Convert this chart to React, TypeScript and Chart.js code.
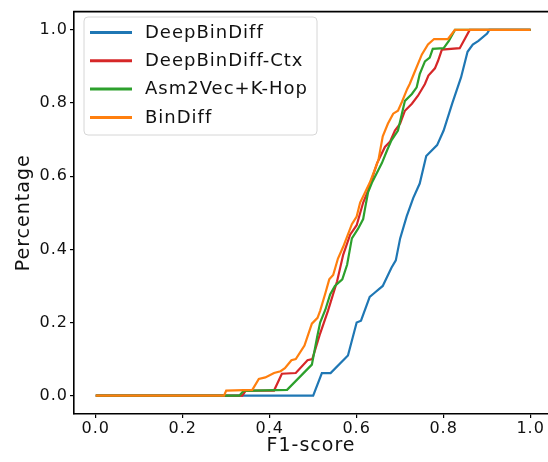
import React, { useEffect, useRef } from "react";
import { Chart, registerables } from "chart.js";
Chart.register(...registerables);

const seriesNames = ["DeepBinDiff", "DeepBinDiff-Ctx", "Asm2Vec+K-Hop", "BinDiff"];
const seriesColors = ["#1f77b4", "#d62728", "#2ca02c", "#ff7f0e"];

const deepBinDiffX = [0, 0.50, 0.52, 0.54, 0.58, 0.60, 0.61, 0.63, 0.64, 0.66, 0.68, 0.69, 0.70, 0.715, 0.73, 0.745, 0.76, 0.785, 0.80, 0.82, 0.84, 0.855, 0.867, 0.88, 0.90, 0.905, 1.0];
const deepBinDiffY = [0, 0, 0.062, 0.062, 0.11, 0.2, 0.205, 0.27, 0.28, 0.30, 0.35, 0.37, 0.43, 0.49, 0.54, 0.58, 0.655, 0.685, 0.725, 0.80, 0.87, 0.94, 0.96, 0.97, 0.99, 1.0, 1.0];

const ctxX = [0, 0.337, 0.345, 0.41, 0.428, 0.46, 0.487, 0.498, 0.516, 0.534, 0.555, 0.569, 0.585, 0.60, 0.615, 0.626, 0.647, 0.665, 0.677, 0.688, 0.70, 0.711, 0.727, 0.741, 0.757, 0.765, 0.78, 0.787, 0.796, 0.837, 0.86, 1.0];
const ctxY = [0, 0, 0.014, 0.014, 0.06, 0.062, 0.097, 0.1, 0.17, 0.232, 0.313, 0.385, 0.44, 0.466, 0.528, 0.56, 0.636, 0.68, 0.695, 0.725, 0.744, 0.779, 0.798, 0.82, 0.852, 0.875, 0.895, 0.915, 0.946, 0.95, 1.0, 1.0];

const asmX = [0, 0.33, 0.34, 0.44, 0.497, 0.509, 0.516, 0.528, 0.539, 0.55, 0.567, 0.578, 0.589, 0.603, 0.615, 0.619, 0.626, 0.635, 0.658, 0.67, 0.68, 0.695, 0.704, 0.711, 0.727, 0.738, 0.745, 0.757, 0.768, 0.775, 0.80, 0.812, 0.826, 1.0];
const asmY = [0, 0, 0.013, 0.016, 0.085, 0.16, 0.2, 0.235, 0.277, 0.3, 0.318, 0.358, 0.43, 0.456, 0.483, 0.51, 0.555, 0.582, 0.636, 0.671, 0.698, 0.725, 0.771, 0.806, 0.825, 0.843, 0.879, 0.914, 0.924, 0.948, 0.95, 0.97, 1.0, 1.0];

const binDiffX = [0, 0.295, 0.30, 0.36, 0.375, 0.39, 0.41, 0.425, 0.435, 0.45, 0.46, 0.48, 0.497, 0.51, 0.516, 0.528, 0.537, 0.546, 0.557, 0.569, 0.589, 0.60, 0.608, 0.619, 0.63, 0.65, 0.66, 0.672, 0.684, 0.695, 0.704, 0.716, 0.722, 0.734, 0.75, 0.764, 0.778, 0.81, 0.826, 1.0];
const binDiffY = [0, 0, 0.014, 0.016, 0.046, 0.05, 0.062, 0.067, 0.075, 0.097, 0.1, 0.137, 0.197, 0.213, 0.232, 0.28, 0.318, 0.33, 0.375, 0.407, 0.469, 0.49, 0.528, 0.555, 0.582, 0.644, 0.709, 0.744, 0.771, 0.779, 0.803, 0.838, 0.852, 0.887, 0.933, 0.96, 0.975, 0.975, 1.0, 1.0];

const seriesX = [deepBinDiffX, ctxX, asmX, binDiffX];
const seriesY = [deepBinDiffY, ctxY, asmY, binDiffY];

const xTicks = [0, 0.2, 0.4, 0.6, 0.8, 1.0];
const yTicks = [0, 0.2, 0.4, 0.6, 0.8, 1.0];
const xTitle = "F1-score";
const yTitle = "Percentage";

const FONT = "'DejaVu Sans', sans-serif";

const spacingPlugin = {
  id: "letterSpacing",
  beforeUpdate(chart: any) {
    chart.ctx.letterSpacing = "1px";
  },
  beforeDraw(chart: any) {
    chart.ctx.letterSpacing = "1px";
  },
};

const topSpinePlugin = {
  id: "topSpine",
  afterDraw(chart: any) {
    const { ctx, chartArea } = chart;
    ctx.save();
    ctx.strokeStyle = "#000";
    ctx.lineWidth = 1.6;
    ctx.beginPath();
    ctx.moveTo(chartArea.left - 0.8, chartArea.top);
    ctx.lineTo(chartArea.right, chartArea.top);
    ctx.stroke();
    ctx.restore();
  },
};

const legendPlugin = {
  id: "boxLegend",
  afterDatasetsDraw(chart: any) {
    const { ctx } = chart;
    const x0 = 84, y0 = 17, w = 233, h = 118, r = 4;
    ctx.save();
    ctx.beginPath();
    ctx.moveTo(x0 + r, y0);
    ctx.lineTo(x0 + w - r, y0);
    ctx.quadraticCurveTo(x0 + w, y0, x0 + w, y0 + r);
    ctx.lineTo(x0 + w, y0 + h - r);
    ctx.quadraticCurveTo(x0 + w, y0 + h, x0 + w - r, y0 + h);
    ctx.lineTo(x0 + r, y0 + h);
    ctx.quadraticCurveTo(x0, y0 + h, x0, y0 + h - r);
    ctx.lineTo(x0, y0 + r);
    ctx.quadraticCurveTo(x0, y0, x0 + r, y0);
    ctx.closePath();
    ctx.fillStyle = "rgba(255,255,255,0.85)";
    ctx.fill();
    ctx.strokeStyle = "#d6d6d6";
    ctx.lineWidth = 1;
    ctx.stroke();
    ctx.font = `18px ${FONT}`;
    ctx.textBaseline = "middle";
    ctx.textAlign = "left";
    chart.data.datasets.forEach((ds: any, i: number) => {
      const y = 32.5 + i * 28.3;
      ctx.strokeStyle = ds.borderColor;
      ctx.lineWidth = 3;
      ctx.beginPath();
      ctx.moveTo(90, y);
      ctx.lineTo(132, y);
      ctx.stroke();
      ctx.fillStyle = "#111";
      ctx.fillText(ds.label, 145, y + 0.5);
    });
    ctx.restore();
  },
};

export default function App() {
  const ref = useRef<HTMLCanvasElement>(null);
  useEffect(() => {
    const datasets = seriesNames.map((name, i) => ({
      label: name,
      data: seriesX[i].map((x, j) => ({ x, y: seriesY[i][j] })),
      borderColor: seriesColors[i],
      backgroundColor: seriesColors[i],
      borderWidth: 2.2,
      pointRadius: 0,
      tension: 0,
      fill: false,
      order: seriesNames.length - i,
    }));
    const chart = new Chart(ref.current as HTMLCanvasElement, {
      type: "line",
      data: { datasets },
      options: {
        animation: false,
        responsive: false,
        devicePixelRatio: 1,
        layout: { padding: { top: 7, right: 0, bottom: 0, left: 0 } },
        plugins: { legend: { display: false }, tooltip: { enabled: false } },
        scales: {
          x: {
            type: "linear",
            min: -0.05,
            max: 1.04,
            afterBuildTicks: (s: any) => {
              s.ticks = xTicks.map((v) => ({ value: v }));
            },
            afterFit: (s: any) => {
              s.height = 48;
            },
            ticks: {
              callback: (v: any) => Number(v).toFixed(1),
              font: { family: FONT, size: 16 },
              color: "#111",
              padding: 1,
              maxRotation: 0,
              autoSkip: false,
            },
            grid: { drawOnChartArea: false, drawTicks: true, tickLength: 4, color: "#000", lineWidth: 1.2 },
            border: { display: true, color: "#000", width: 1.6 },
            title: { display: true, text: xTitle, font: { family: FONT, size: 19 }, color: "#111", padding: { top: 0, bottom: 5 } },
          },
          y: {
            type: "linear",
            min: -0.05,
            max: 1.05,
            afterBuildTicks: (s: any) => {
              s.ticks = yTicks.map((v) => ({ value: v }));
            },
            afterFit: (s: any) => {
              s.width = 74;
            },
            ticks: {
              callback: (v: any) => Number(v).toFixed(1),
              font: { family: FONT, size: 16 },
              color: "#111",
              padding: 2,
              autoSkip: false,
            },
            grid: { drawOnChartArea: false, drawTicks: true, tickLength: 4, color: "#000", lineWidth: 1.2 },
            border: { display: true, color: "#000", width: 1.6 },
            title: { display: true, text: yTitle, font: { family: FONT, size: 19 }, color: "#111", padding: { top: 13, bottom: 0 } },
          },
        },
      },
      plugins: [spacingPlugin, topSpinePlugin, legendPlugin],
    } as any);
    return () => chart.destroy();
  }, []);
  return (
    <div style={{ position: "absolute", left: 0, top: 0, width: 548, height: 462, background: "#fff" }}>
      <canvas ref={ref} width={548} height={462} style={{ display: "block", width: 548, height: 462 }} />
    </div>
  );
}
